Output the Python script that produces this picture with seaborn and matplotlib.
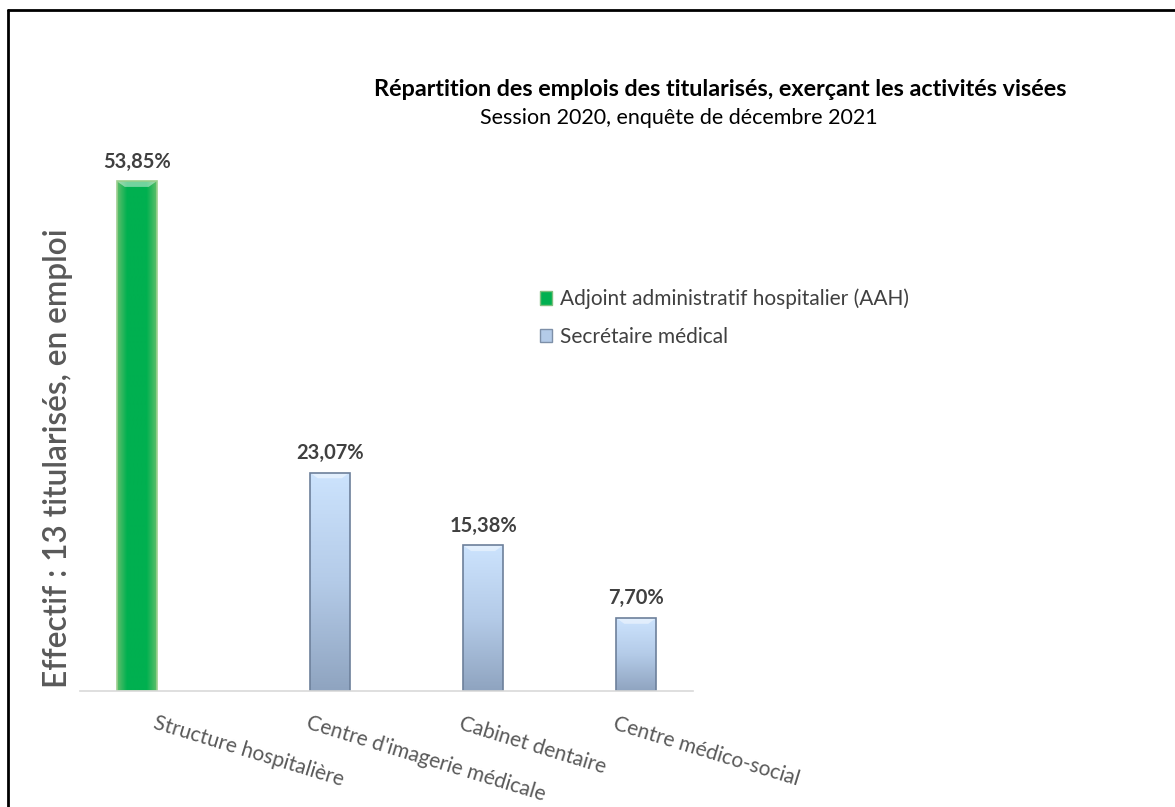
import numpy as np
import pandas as pd
import seaborn as sns
import matplotlib.pyplot as plt
from matplotlib.patches import Patch
from matplotlib.lines import Line2D
from matplotlib.colors import LinearSegmentedColormap

# Données du graphique
categories = ["Structure hospitalière", "Centre d'imagerie médicale",
              "Cabinet dentaire", "Centre médico-social"]
series = ["Adjoint administratif hospitalier (AAH)", "Secrétaire médical",
          "Secrétaire médical", "Secrétaire médical"]
valeurs = [53.85, 23.07, 15.38, 7.70]
etiquettes = ["53,85%", "23,07%", "15,38%", "7,70%"]
legende = ["Adjoint administratif hospitalier (AAH)", "Secrétaire médical"]

df = pd.DataFrame({"categorie": categories, "serie": series, "valeur": valeurs})

sns.set_theme(style="white")
plt.rcParams['font.family'] = ['Lato', 'DejaVu Sans']

fig = plt.figure(figsize=(11.75, 8.07), dpi=100)
ax = fig.add_axes([80 / 1175, 1 - 691 / 807, 613 / 1175, 568 / 807])

sns.barplot(data=df, x="categorie", y="valeur", hue="serie", hue_order=legende,
            order=categories, width=0.52, dodge=True, ax=ax, legend=False,
            palette=["#00B050", "#A9C3E4"], saturation=1)

# Dégradés façon Excel
grad_vert = LinearSegmentedColormap.from_list("v", ["#5DBE6A", "#00B050", "#00B050", "#00B050", "#5DBE6A"])
grad_bleu = LinearSegmentedColormap.from_list("b", ["#8FA4C0", "#B4CBE8", "#CCE3FD"])

barres = [p for p in ax.patches if p.get_height() > 0]
for p in barres:
    x0, w, h = p.get_x(), p.get_width(), p.get_height()
    r, g, b, _ = p.get_facecolor()
    if g > b + 0.2:
        img = np.linspace(0, 1, 50).reshape(1, -1)
        cmap = grad_vert
        bord = "#9CCF8F"
    else:
        img = np.linspace(0, 1, 100).reshape(-1, 1)
        cmap = grad_bleu
        bord = "#6D809B"
    im = ax.imshow(img, cmap=cmap, extent=[x0, x0 + w, 0, h], origin="lower",
                   aspect="auto", zorder=p.get_zorder() + 0.1)
    im.set_clip_path(p)
    # bord supérieur biseauté
    ax.fill([x0, x0 + w, x0 + w * 0.8, x0 + w * 0.2], [h, h, h - 0.6, h - 0.6],
            color="white", alpha=0.45, zorder=p.get_zorder() + 0.2, lw=0)
    ax.add_patch(plt.Rectangle((x0, 0), w, h, fill=False, edgecolor=bord,
                               lw=1.2, zorder=p.get_zorder() + 0.3))

for p, txt in zip(sorted(barres, key=lambda b: b.get_x()), etiquettes):
    ax.annotate(txt, (p.get_x() + p.get_width() / 2, p.get_height()),
                xytext=(0, 7), textcoords="offset points", ha="center", va="bottom",
                fontsize=14.5, fontweight="bold", color="#404040")

ax.set_ylim(0, 60)
ax.set_xlim(-0.5, 3.5)
ax.set_yticks([])
ax.set_xlabel("")
ax.set_ylabel("")
for s in ["top", "right", "left"]:
    ax.spines[s].set_visible(False)
ax.spines["bottom"].set_color("#D9D9D9")
ax.spines["bottom"].set_linewidth(1.2)

ax.tick_params(axis="x", length=0, pad=16)
ax.set_xticks(range(len(categories)))
ax.set_xticklabels(categories, rotation=-17, ha="left", va="top",
                   rotation_mode="anchor", fontsize=15, color="#595959")

fig.text(58 / 1175, 1 - 458 / 807, "Effectif : 13 titularisés, en emploi", rotation=90,
         ha="center", va="center", fontsize=22.8, fontweight="semibold", color="#595959")

fig.text(720 / 1175, 1 - 90 / 807,
         "Répartition des emplois des titularisés, exerçant les activités visées",
         ha="center", va="center", fontsize=16.8, fontweight="bold", color="black")
fig.text(679 / 1175, 1 - 118 / 807, "Session 2020, enquête de décembre 2021",
         ha="center", va="center", fontsize=15.5, color="black")

handles = [Patch(facecolor="#00B050", edgecolor="#7DBF7D"),
           Patch(facecolor="#B4CBE8", edgecolor="#7D8FA8")]
fig.legend(handles, legende, loc="upper left", bbox_to_anchor=(521 / 1175, 1 - 270 / 807),
           frameon=False, fontsize=15, labelcolor="#404040", handlelength=0.6,
           handleheight=0.6, handletextpad=0.35, labelspacing=0.85)

# cadre noir
fig.add_artist(Line2D([8 / 1175, 1], [1 - 10 / 807, 1 - 10 / 807], color="black", lw=2))
fig.add_artist(Line2D([8 / 1175, 8 / 1175], [0, 1 - 10 / 807], color="black", lw=2))

fig.savefig("out.png", dpi=100)
